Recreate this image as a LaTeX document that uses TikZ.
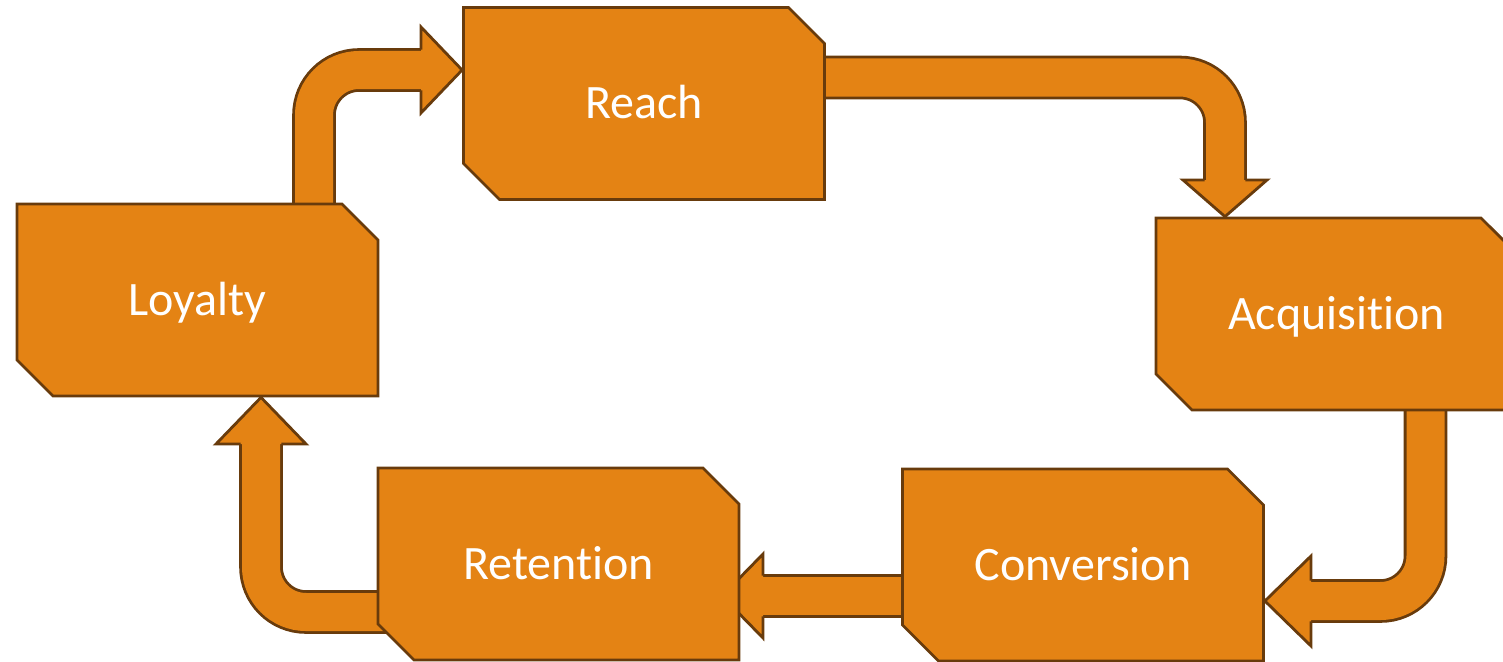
\documentclass[tikz,border=0pt]{standalone}
\usepackage{fontspec}
\setmainfont{Carlito}[Ligatures=NoCommon]
\usetikzlibrary{shapes.misc,backgrounds}
\definecolor{boxfill}{HTML}{E48314}
\definecolor{boxline}{HTML}{683B0C}

\begin{document}
\begin{tikzpicture}[
  x=1pt, y=-1pt,
  stage/.style={chamfered rectangle, chamfered rectangle corners={north east,south west},
    chamfered rectangle xsep=21pt, chamfered rectangle ysep=21pt,
    minimum width=361pt, minimum height=192pt, inner sep=0pt,
    fill=boxfill, draw=boxline, line width=2.8pt, text=white,
    text height=30pt, text depth=0pt, font=\fontsize{48}{57}\selectfont},
  shaft/.style={draw=boxline, double=boxfill, double distance=38pt, line width=2.8pt, rounded corners=45pt},
  head/.style={fill=boxfill, draw=boxline, line width=2.8pt}
]
\useasboundingbox (0,0) rectangle (1503,661);

\node[stage] (reach) at (644,103.5) {Reach};
\node[stage] (loyalty) at (197.5,300) {Loyalty};
\node[stage] (acquisition) at (1336.5,314) {Acquisition};
\node[stage] (conversion) at (1083,565) {Conversion};
\node[stage] (retention) at (558.5,564) {Retention};

\begin{scope}[on background layer]
% loyalty -> reach
\draw[shaft] (314,0 |- loyalty.center) |- (430,70);
\filldraw[head] (421,49.6) -- (421,27) -- (reach.west |- 0,70) -- (421,113) -- (421,90.4);
% reach -> acquisition
\draw[shaft] (reach.center |- 0,77.5) -| (1225,190);
\filldraw[head] (1204.6,180) -- (1183,180) -- (acquisition.north -| 1225,0) -- (1267,180) -- (1245.4,180);
% acquisition -> conversion
\draw[shaft] (1425.5,0 |- acquisition.center) |- (1300,601);
\filldraw[head] (1311,580.6) -- (1311,556) -- (conversion.east |- 0,601) -- (1311,646) -- (1311,621.4);
% conversion -> retention
\draw[shaft] (conversion.center |- 0,596) -- (755,596);
\filldraw[head] (763,575.6) -- (763,554) -- (722,596) -- (763,638) -- (763,616.4);
% retention -> loyalty
\draw[shaft] (retention.center |- 0,612) -| (261,435);
\filldraw[head] (240.6,444) -- (216,444) -- (loyalty.south -| 261,0) -- (306,444) -- (281.4,444);
\end{scope}
\end{tikzpicture}
\end{document}
